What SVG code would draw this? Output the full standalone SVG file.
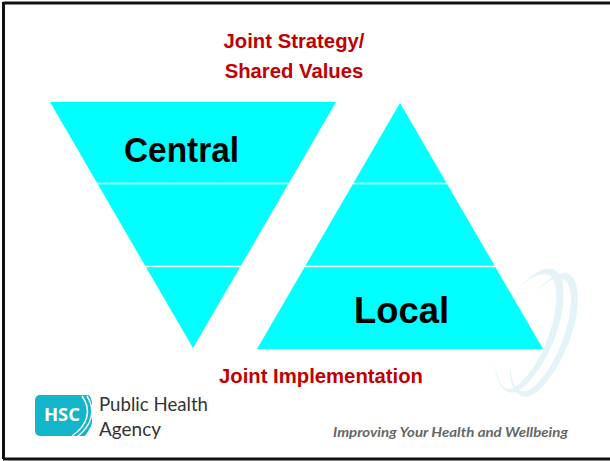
<svg xmlns="http://www.w3.org/2000/svg" width="610" height="461" viewBox="0 0 610 461">
<style>
.c{fill:#00ffff}
.d{stroke:#fff;stroke-width:1.5;fill:none}
.r{font:bold 20.300px "Liberation Sans",Arial,sans-serif;fill:#c00000}
.b{font:bold 35px "Liberation Sans",Arial,sans-serif;fill:#000}
.p{font:20px Lato,"Noto Sans",sans-serif;fill:#333}
.sw{fill:#e3f3f7}
</style>
<rect width="610" height="461" fill="#fff"/>
<g id="frame"><path d="M3.500 3H610M3.500 2V459M3 459H610" fill="none" stroke="#111" stroke-width="3"/></g>
<g id="swoosh">
<path class="sw" d="M520 286C533 274 546 265 555 270C564 276 565 292 562 312C556 345 538 378 518 391C505 397 495 385 495 360C496 382 503 392 514 388C532 376 549 345 555 312C558 292 556 279 549 275C540 272 530 278 520 286Z"/>
<path class="sw" d="M536 292C546 280 560 270 569 274C578 279 580 298 576 318C569 352 548 388 530 396C517 400 509 388 510 365C511 385 517 393 527 391C545 382 562 350 569 318C573 298 571 283 563 279C555 276 545 283 536 292Z"/>
</g>
<g id="central">
<polygon class="c" points="50,102 336,102 193,348"/>
<path class="d" d="M96 183.500H290M144 266.500H242"/>
<text class="b" x="124" y="162" textLength="115" lengthAdjust="spacingAndGlyphs">Central</text>
</g>
<g id="local">
<polygon class="c" points="400,103 543,349 257,349" stroke="#fff" stroke-width="0"/>
<path class="d" d="M352 183.500H448M304 266.500H496"/>
<text class="b" x="354" y="323" textLength="95" lengthAdjust="spacingAndGlyphs" style="font-size:37px">Local</text>
</g>
<g id="top-label">
<text class="r" x="294" y="48" text-anchor="middle">Joint Strategy/</text>
<text class="r" x="294" y="78" text-anchor="middle">Shared Values</text>
</g>
<g id="bottom-label"><text class="r" x="321" y="383" text-anchor="middle">Joint Implementation</text></g>
<g id="logo">
<rect x="35" y="395" width="57" height="41" rx="5" fill="#12b5c9"/>
<path d="M82 396C92 410 88 425 72 436M87 396C96 410 92 425 78 436" fill="none" stroke="#fff" stroke-width="1.500"/>
<path d="M89 394C97 410 94 426 84 437L95 437V394Z" fill="#fff"/>
<text x="62" y="421" text-anchor="middle" style="font:bold 18.500px 'Open Sans','Noto Sans',sans-serif;fill:#fff">HSC</text>
<text class="p" x="99" y="411" textLength="109" lengthAdjust="spacingAndGlyphs">Public Health</text>
<text class="p" x="99" y="436" textLength="62" lengthAdjust="spacingAndGlyphs">Agency</text>
</g>
<g id="tagline"><text x="333" y="437" style="font:italic bold 14px Lato,'Open Sans',sans-serif;fill:#666" textLength="235" lengthAdjust="spacingAndGlyphs">Improving Your Health and Wellbeing</text></g>
</svg>
